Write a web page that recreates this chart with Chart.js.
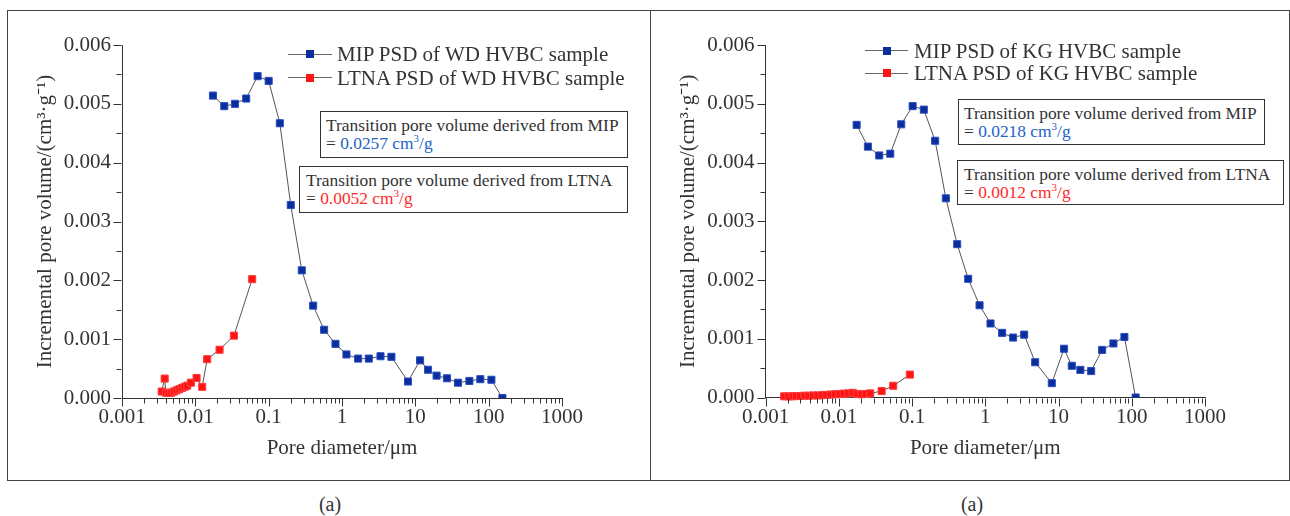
<!DOCTYPE html>
<html><head><meta charset="utf-8">
<script src="https://cdn.jsdelivr.net/npm/chart.js@4.4.0/dist/chart.umd.min.js"></script>
<style>
html,body{margin:0;padding:0;background:#fff;}
body{width:1290px;height:516px;position:relative;overflow:hidden;font-family:'Liberation Serif','Times New Roman',serif;color:#333;}
.panel{position:absolute;border:1.5px solid #444;box-sizing:border-box;}
canvas{position:absolute;top:0;}
.leg{position:absolute;font-size:21px;line-height:24px;white-space:nowrap;height:24px;}
.leg .ln{position:absolute;top:11.5px;height:1px;background:#666;}
.leg .mk{position:absolute;top:8px;width:8px;height:8px;}
.leg .tx{position:absolute;top:0;}
.note{position:absolute;border:1.5px solid #333;box-sizing:border-box;background:#fff;font-size:17.4px;line-height:18.3px;white-space:nowrap;padding-top:3.5px;}
.sup{font-size:11px;position:relative;top:-7px;}
.cap{position:absolute;top:493px;font-size:20px;width:60px;text-align:center;}
</style></head>
<body>
<div class="panel" style="left:7px;top:10px;width:644px;height:471px;"></div>
<div class="panel" style="left:650px;top:10px;width:640px;height:471px;"></div>
<canvas id="c1" width="650" height="481" style="left:0;"></canvas>
<canvas id="c2" width="640" height="481" style="left:650px;"></canvas>

<div class="leg" style="left:288px;top:42px;"><span class="ln" style="left:0;width:44px;"></span><span class="mk" style="left:18px;background:#0b2e9c;"></span><span class="tx" style="left:49px;">MIP PSD of WD HVBC sample</span></div>
<div class="leg" style="left:288px;top:65.5px;"><span class="ln" style="left:0;width:44px;"></span><span class="mk" style="left:18px;background:#ff1414;"></span><span class="tx" style="left:49px;">LTNA PSD of WD HVBC sample</span></div>
<div class="leg" style="left:865px;top:38.5px;"><span class="ln" style="left:0;width:43px;"></span><span class="mk" style="left:18px;background:#0b2e9c;"></span><span class="tx" style="left:49px;">MIP PSD of KG HVBC sample</span></div>
<div class="leg" style="left:865px;top:61px;"><span class="ln" style="left:0;width:43px;"></span><span class="mk" style="left:18px;background:#ff1414;"></span><span class="tx" style="left:49px;">LTNA PSD of KG HVBC sample</span></div>

<div class="note" style="left:320px;top:111px;width:308px;height:47px;padding-left:5px;">Transition pore volume derived from MIP<br>= <span style="color:#2563c6">0.0257 cm<span class="sup">3</span>/g</span></div>
<div class="note" style="left:299px;top:166px;width:329px;height:47px;padding-left:6px;">Transition pore volume derived from LTNA<br>= <span style="color:#ff2b2b">0.0052 cm<span class="sup">3</span>/g</span></div>
<div class="note" style="left:958px;top:99px;width:307px;height:46px;padding-left:5px;">Transition pore volume derived from MIP<br>= <span style="color:#2563c6">0.0218 cm<span class="sup">3</span>/g</span></div>
<div class="note" style="left:957px;top:160px;width:327px;height:45px;padding-left:6px;">Transition pore volume derived from LTNA<br>= <span style="color:#ff2b2b">0.0012 cm<span class="sup">3</span>/g</span></div>

<div class="cap" style="left:300px;">(a)</div>
<div class="cap" style="left:942px;">(a)</div>

<script>
// ---- data (pore diameter in µm, incremental pore volume in cm3/g) ----
const wdMipDiameter = [0.0174, 0.0248, 0.0347, 0.0494, 0.0707, 0.1, 0.142, 0.2, 0.283, 0.404, 0.57, 0.815, 1.15, 1.66, 2.32, 3.35, 4.72, 7.95, 11.6, 14.9, 19.5, 27, 38.2, 54.6, 77, 109, 154];
const wdMipVolume   = [0.00514, 0.00496, 0.00500, 0.00509, 0.00547, 0.00539, 0.00467, 0.00328, 0.00217, 0.00157, 0.00116, 0.00092, 0.00074, 0.00067, 0.00067, 0.00071, 0.00070, 0.00028, 0.00064, 0.00048, 0.00038, 0.000335, 0.00026, 0.00029, 0.00032, 0.00031, 0.0];
const wdLtnaDiameter = [0.00348, 0.00382, 0.00397, 0.00433, 0.0047, 0.0051, 0.00556, 0.00604, 0.00656, 0.00714, 0.00776, 0.0087, 0.0104, 0.0124, 0.0145, 0.0214, 0.0336, 0.0596];
const wdLtnaVolume   = [0.00011, 0.00033, 0.00009, 0.000085, 0.00009, 0.00011, 0.00013, 0.00015, 0.00017, 0.00019, 0.00021, 0.00026, 0.00034, 0.00019, 0.00066, 0.00082, 0.00106, 0.00202];

const kgMipDiameter = [0.01754, 0.025, 0.0357, 0.0505, 0.0713, 0.102, 0.145, 0.207, 0.29, 0.414, 0.585, 0.836, 1.18, 1.70, 2.40, 3.40, 4.80, 8.1, 11.9, 15.2, 19.9, 27.9, 39.4, 56.2, 79.4, 113];
const kgMipVolume   = [0.00464, 0.00427, 0.00412, 0.00415, 0.00465, 0.00496, 0.00490, 0.00437, 0.00339, 0.00261, 0.00202, 0.00157, 0.00126, 0.00110, 0.00102, 0.00107, 0.00060, 0.000244, 0.00083, 0.00054, 0.00047, 0.00045, 0.00081, 0.00092, 0.00103, 0.0];
const kgLtnaDiameter = [0.0018, 0.00205, 0.00232, 0.00262, 0.00296, 0.00339, 0.00389, 0.00447, 0.00513, 0.00589, 0.00676, 0.00776, 0.00891, 0.0102, 0.0117, 0.0135, 0.0155, 0.0178, 0.0204, 0.0234, 0.0269, 0.0385, 0.0554, 0.0936];
const kgLtnaVolume   = [0.00002, 0.00002, 0.00002, 0.000025, 0.000025, 0.00003, 0.00003, 0.000035, 0.000035, 0.00004, 0.000045, 0.00005, 0.000055, 0.00006, 0.000065, 0.00007, 0.00008, 0.00006, 0.000055, 0.00006, 0.00007, 0.00011, 0.0002, 0.00039];

const xTickValues = [0.001, 0.01, 0.1, 1, 10, 100, 1000];
const xTickLabels = ['0.001', '0.01', '0.1', '1', '10', '100', '1000'];
const yTickValues = [0, 0.001, 0.002, 0.003, 0.004, 0.005, 0.006];
const yTickLabels = ['0.000', '0.001', '0.002', '0.003', '0.004', '0.005', '0.006'];
const minorMultipliers = [2, 3, 4, 5, 6, 7, 8, 9];

const xTitle = 'Pore diameter/\u03bcm';
const yTitle = 'Incremental pore volume/(cm\u00b3\u00b7g\u207b\u00b9)';

const FONT = "'Liberation Serif', 'Times New Roman', serif";
const AXIS = '#333';

const tickPlugin = {
  id: 'manualTicks',
  afterDraw(chart) {
    const {ctx, scales: {x, y}} = chart;
    ctx.save();
    ctx.strokeStyle = AXIS;
    ctx.lineWidth = 1;
    const yb = Math.round(y.bottom) + 0.5;
    const xl = Math.round(x.left) - 0.5;
    ctx.beginPath();
    xTickValues.forEach((d, i) => {
      const px = Math.round(x.getPixelForValue(d)) + 0.5;
      ctx.moveTo(px, yb); ctx.lineTo(px, yb + 8);
      if (i < xTickValues.length - 1) {
        minorMultipliers.forEach(m => {
          const p = Math.round(x.getPixelForValue(m * d)) + 0.5;
          ctx.moveTo(p, yb); ctx.lineTo(p, yb + 5);
        });
      }
    });
    yTickValues.forEach((v, i) => {
      const py = Math.round(y.getPixelForValue(v)) + 0.5;
      ctx.moveTo(xl, py); ctx.lineTo(xl - 8, py);
      if (i < yTickValues.length - 1) {
        const pm = Math.round(y.getPixelForValue((v + yTickValues[i + 1]) / 2)) + 0.5;
        ctx.moveTo(xl, pm); ctx.lineTo(xl - 5, pm);
      }
    });
    ctx.stroke();
    ctx.restore();
  }
};

function pts(xs, ys) { return xs.map((d, i) => ({x: d, y: ys[i]})); }

function makeChart(id, mipX, mipY, ltnaX, ltnaY, g) {
  new Chart(document.getElementById(id), {
    type: 'scatter',
    data: {
      datasets: [
        {label: 'MIP', data: pts(mipX, mipY), showLine: true, borderColor: '#555', borderWidth: 1,
         pointStyle: 'rect', pointRadius: 5, pointHoverRadius: 5, pointBackgroundColor: '#0b2e9c',
         pointBorderColor: '#2a4fc2', pointBorderWidth: 1},
        {label: 'LTNA', data: pts(ltnaX, ltnaY), showLine: true, borderColor: '#555', borderWidth: 1,
         pointStyle: 'rect', pointRadius: 5, pointHoverRadius: 5, pointBackgroundColor: '#ff1414',
         pointBorderColor: '#ff3c3c', pointBorderWidth: 1, clip: false}
      ]
    },
    options: {
      responsive: false, animation: false, devicePixelRatio: 1,
      layout: {padding: {left: 0, top: g.top, right: g.right, bottom: 0}},
      plugins: {legend: {display: false}, tooltip: {enabled: false}},
      scales: {
        x: {
          type: 'logarithmic', position: 'bottom', min: 0.001, max: 1000,
          afterFit(s) { s.height = g.xh; },
          afterBuildTicks(s) { s.ticks = xTickValues.map(v => ({value: v})); },
          ticks: {callback: (v, i) => xTickLabels[i], font: {family: FONT, size: 21}, color: AXIS,
                  padding: 7, maxRotation: 0, autoSkip: false},
          grid: {display: false, drawTicks: false},
          border: {display: true, color: AXIS, width: 1},
          title: {display: true, text: xTitle, font: {family: FONT, size: 21}, color: AXIS, padding: {top: 0, bottom: 20}}
        },
        y: {
          min: 0, max: 0.006,
          afterFit(s) { s.width = g.yw; },
          afterBuildTicks(s) { s.ticks = yTickValues.map(v => ({value: v})); },
          ticks: {callback: (v, i) => yTickLabels[i], font: {family: FONT, size: 21}, color: AXIS, padding: 11},
          grid: {display: false, drawTicks: false},
          border: {display: true, color: AXIS, width: 1},
          title: {display: true, text: yTitle, font: {family: FONT, size: 21}, color: AXIS, padding: {top: g.ytp, bottom: 0}}
        }
      }
    },
    plugins: [tickPlugin]
  });
}

makeChart('c1', wdMipDiameter, wdMipVolume, wdLtnaDiameter, wdLtnaVolume, {top: 45, right: 88, xh: 83, yw: 122, ytp: 33});
makeChart('c2', kgMipDiameter, kgMipVolume, kgLtnaDiameter, kgLtnaVolume, {top: 45, right: 85, xh: 83.5, yw: 115.5, ytp: 25.5});
</script>
</body></html>
